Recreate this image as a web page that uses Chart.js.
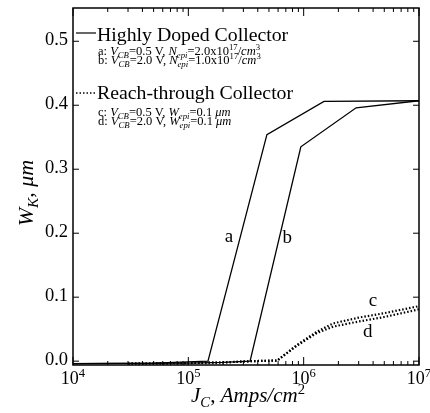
<!DOCTYPE html>
<html lang="en">
<head>
    <meta charset="UTF-8">
    <title>W_K vs J_C</title>
    <style>
        body { margin: 0; background: #ffffff; }
        .chart-container { position: relative; width: 430px; height: 413px; }
    </style>
</head>
<body>
    <div class="chart-container">
        <canvas id="wkChart"></canvas>
    </div>

    <script src="https://cdn.jsdelivr.net/npm/chart.js"></script>
    <script>
        // curve data (J_C in A/cm^2, W_K in um)
        const aJ = [1e4, 5e4, 1.48e5, 4.8e5, 1.5e6, 1e7];
        const aW = [-0.004, -0.003, 0.0, 0.354, 0.406, 0.407];
        const bJ = [1e4, 1e5, 2e5, 3.43e5, 9.45e5, 2.85e6, 1e7];
        const bW = [-0.004, -0.003, -0.002, 0.0, 0.335, 0.396, 0.407];
        const cJ = [3e4, 1e5, 2e5, 3.5e5, 5.9e5, 8.7e5, 1.3e6, 1.8e6, 3e6, 5e6, 1e7];
        const cW = [-0.004, -0.003, -0.002, 0.0, 0.001, 0.025, 0.046, 0.059, 0.068, 0.075, 0.086];
        const dJ = [3e4, 1e5, 2e5, 3.5e5, 5.9e5, 8.7e5, 1.3e6, 1.8e6, 3e6, 5e6, 1e7];
        const dW = [-0.004, -0.003, -0.002, 0.0, 0.001, 0.024, 0.044, 0.054, 0.062, 0.069, 0.081];

        const yTicks = [0.0, 0.1, 0.2, 0.3, 0.4, 0.5];
        const xTickExps = [4, 5, 6, 7];

        // curve letters: [text, J, W]
        const curveLabels = [['a', 2.25e5, 0.194], ['b', 7.2e5, 0.192], ['c', 3.98e6, 0.094], ['d', 3.6e6, 0.046]];

        const SERIF = '"Liberation Serif", "DejaVu Serif", serif';

        function pts(xs, ys) {
            return xs.map((x, i) => ({ x: x, y: ys[i] }));
        }

        // draws a list of [text, kind] runs: n normal, i italic, sub/sup italic small, nsup normal small
        function richText(ctx, runs, x, y, size) {
            let cx = x;
            runs.forEach(r => {
                const t = r[0], k = r[1];
                let fs = size, dy = 0, it = false;
                if (k === 'i') it = true;
                if (k === 'sub') { fs = size * 0.7; dy = size * 0.22; it = true; }
                if (k === 'sup') { fs = size * 0.7; dy = -size * 0.4; it = true; }
                if (k === 'nsup') { fs = size * 0.7; dy = -size * 0.4; }
                ctx.font = (it ? 'italic ' : '') + fs + 'px ' + SERIF;
                ctx.fillText(t, cx, y + dy);
                cx += ctx.measureText(t).width;
            });
            return cx - x;
        }

        function richWidth(ctx, runs, size) {
            let w = 0;
            runs.forEach(r => {
                const k = r[1];
                const small = (k === 'sub' || k === 'sup' || k === 'nsup');
                ctx.font = ((k !== 'n' && k !== 'nsup') ? 'italic ' : '') + (small ? size * 0.7 : size) + 'px ' + SERIF;
                w += ctx.measureText(r[0]).width;
            });
            return w;
        }

        const decorPlugin = {
            id: 'decor',
            afterDraw(chart) {
                const ctx = chart.ctx;
                const xs = chart.scales.x, ys = chart.scales.y;
                const area = chart.chartArea;
                ctx.save();
                ctx.strokeStyle = '#000';
                ctx.fillStyle = '#000';

                // frame
                ctx.lineWidth = 1.5;
                ctx.strokeRect(area.left, area.top, area.right - area.left, area.bottom - area.top);

                // x ticks, inward, bottom and top
                ctx.lineWidth = 1;
                for (let e = 4; e <= 7; e++) {
                    for (let m = 1; m <= 9; m++) {
                        if (e === 7 && m > 1) break;
                        const px = xs.getPixelForValue(m * Math.pow(10, e));
                        const len = m === 1 ? 8 : 4;
                        ctx.beginPath();
                        ctx.moveTo(px, area.bottom); ctx.lineTo(px, area.bottom - len);
                        ctx.moveTo(px, area.top); ctx.lineTo(px, area.top + len);
                        ctx.stroke();
                    }
                }
                // y ticks, inward, left and right
                yTicks.forEach(v => {
                    const py = ys.getPixelForValue(v);
                    ctx.beginPath();
                    ctx.moveTo(area.left, py); ctx.lineTo(area.left + 6, py);
                    ctx.moveTo(area.right, py); ctx.lineTo(area.right - 6, py);
                    ctx.stroke();
                });

                // y tick labels
                ctx.font = '18.5px ' + SERIF;
                ctx.textAlign = 'right';
                ctx.textBaseline = 'middle';
                yTicks.forEach(v => {
                    ctx.fillText(v.toFixed(1), area.left - 5, ys.getPixelForValue(v) - 1);
                });

                // x tick labels 10^n
                ctx.textAlign = 'left';
                ctx.textBaseline = 'alphabetic';
                xTickExps.forEach(e => {
                    const px = xs.getPixelForValue(Math.pow(10, e));
                    const runs = [['10', 'n'], [String(e), 'nsup']];
                    const w = richWidth(ctx, runs, 18);
                    richText(ctx, runs, px - w / 2, area.bottom + 19, 18);
                });

                // axis titles
                const xt = [['J', 'i'], ['C', 'sub'], [', ', 'n'], ['Amps/cm', 'i'], ['2', 'nsup']];
                const xw = richWidth(ctx, xt, 21);
                richText(ctx, xt, 248 - xw / 2, area.bottom + 37, 21);

                ctx.save();
                ctx.translate(33, 193);
                ctx.rotate(-Math.PI / 2);
                const yt = [['W', 'i'], ['K', 'sub'], [', ', 'n'], ['\u03bcm', 'i']];
                const yw = richWidth(ctx, yt, 22);
                richText(ctx, yt, -yw / 2, 0, 22);
                ctx.restore();

                // legend
                const lx = area.left + 3;
                ctx.lineWidth = 1.2;
                ctx.beginPath();
                ctx.moveTo(lx, 33); ctx.lineTo(lx + 20, 33);
                ctx.stroke();
                richText(ctx, [['Highly Doped Collector', 'n']], lx + 21, 41, 19.8);
                richText(ctx, [['a: ', 'n'], ['V', 'i'], ['CB', 'sub'], ['=0.5 V, ', 'n'], ['N', 'i'], ['epi', 'sub'],
                    ['=2.0x10', 'n'], ['17', 'nsup'], ['/', 'n'], ['cm', 'i'], ['3', 'nsup']], lx + 22, 55, 12.5);
                richText(ctx, [['b: ', 'n'], ['V', 'i'], ['CB', 'sub'], ['=2.0 V, ', 'n'], ['N', 'i'], ['epi', 'sub'],
                    ['=1.0x10', 'n'], ['17', 'nsup'], ['/', 'n'], ['cm', 'i'], ['3', 'nsup']], lx + 22, 64, 12.5);

                ctx.lineWidth = 1.5;
                ctx.setLineDash([1.5, 2]);
                ctx.beginPath();
                ctx.moveTo(lx, 93); ctx.lineTo(lx + 20, 93);
                ctx.stroke();
                ctx.setLineDash([]);
                richText(ctx, [['Reach-through Collector', 'n']], lx + 21, 99, 19.8);
                richText(ctx, [['c: ', 'n'], ['V', 'i'], ['CB', 'sub'], ['=0.5 V, ', 'n'], ['W', 'i'], ['epi', 'sub'],
                    ['=0.1 ', 'n'], ['\u03bcm', 'i']], lx + 22, 116, 12.5);
                richText(ctx, [['d: ', 'n'], ['V', 'i'], ['CB', 'sub'], ['=2.0 V, ', 'n'], ['W', 'i'], ['epi', 'sub'],
                    ['=0.1 ', 'n'], ['\u03bcm', 'i']], lx + 22, 125, 12.5);

                // curve letters
                ctx.font = '19px ' + SERIF;
                ctx.textAlign = 'center';
                ctx.textBaseline = 'middle';
                curveLabels.forEach(l => {
                    ctx.fillText(l[0], xs.getPixelForValue(l[1]), ys.getPixelForValue(l[2]));
                });
                ctx.restore();
            }
        };

        const solid = { borderColor: '#000', borderWidth: 1.3, pointRadius: 0, showLine: true, fill: false, tension: 0 };
        const dotted = { borderColor: '#000', borderWidth: 2.2, borderDash: [1.5, 2], pointRadius: 0, showLine: true, fill: false, tension: 0 };

        const ctx = document.getElementById('wkChart').getContext('2d');
        const wkChart = new Chart(ctx, {
            type: 'scatter',
            data: {
                datasets: [
                    Object.assign({ label: 'a', data: pts(aJ, aW) }, solid),
                    Object.assign({ label: 'b', data: pts(bJ, bW) }, solid),
                    Object.assign({ label: 'c', data: pts(cJ, cW) }, dotted),
                    Object.assign({ label: 'd', data: pts(dJ, dW) }, dotted)
                ]
            },
            options: {
                responsive: true,
                maintainAspectRatio: false,
                animation: false,
                layout: { padding: { left: 73, top: 8, right: 11, bottom: 48 } },
                scales: {
                    x: {
                        type: 'logarithmic',
                        min: 1e4,
                        max: 1e7,
                        grid: { display: false, drawTicks: false },
                        border: { display: false },
                        ticks: { display: false }
                    },
                    y: {
                        min: -0.006,
                        max: 0.552,
                        grid: { display: false, drawTicks: false },
                        border: { display: false },
                        ticks: { display: false }
                    }
                },
                plugins: {
                    legend: { display: false },
                    tooltip: { enabled: false }
                }
            },
            plugins: [decorPlugin]
        });
    </script>
</body>
</html>
